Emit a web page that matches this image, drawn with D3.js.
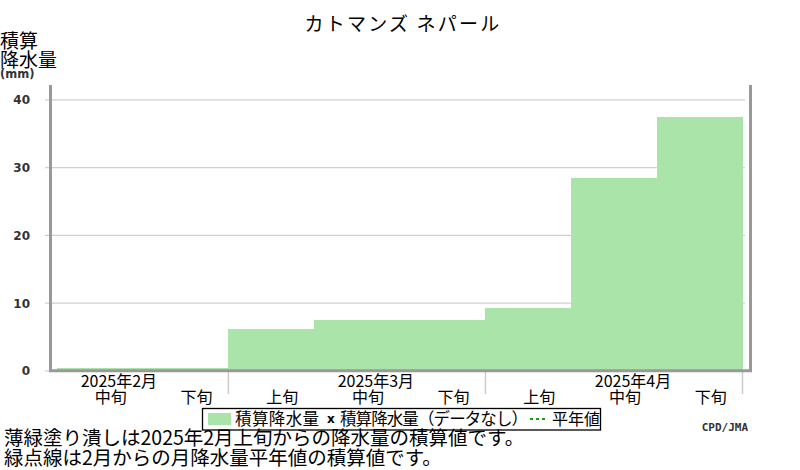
<!DOCTYPE html>
<html>
<head>
<meta charset="utf-8">
<script src="https://cdn.jsdelivr.net/npm/d3@7"></script>
<style>
  body { margin: 0; background: #fff; }
  text { font-family: "Noto Sans CJK JP", sans-serif; }
</style>
</head>
<body>
<div id="grafico"></div>
<script>
const WIDTH = 800;
const HEIGHT = 470;

// datos: precipitacion acumulada por decena (mm)
const dekadKeys = ["2-2", "2-3", "3-1", "3-2", "3-3", "4-1", "4-2", "4-3"];
const dekadLabels = ["中旬", "下旬", "上旬", "中旬", "下旬", "上旬", "中旬", "下旬"];
const acumulado = [0.3, 0.3, 6.05, 7.4, 7.4, 9.26, 28.35, 37.37];
const months = ["2025年2月", "2025年3月", "2025年4月"];
const monthMidKey = ["2-2", "3-2", "4-2"];
const monthStartKey = ["3-1", "4-1"];
const yTicks = [0, 10, 20, 30, 40];

const title = "カトマンズ ネパール";
const notes = ["薄緑塗り潰しは2025年2月上旬からの降水量の積算値です。",
               "緑点線は2月からの月降水量平年値の積算値です。"];

let svg = d3.select("#grafico")
    .append("svg")
    .attr("width", WIDTH)
    .attr("height", HEIGHT);

let x = d3.scaleBand().domain(dekadKeys).range([57, 742.5]).padding(0);
let y = d3.scaleLinear().domain([0, 40]).range([370.3, 99.3]);

// titulo
svg.append("text")
    .attr("x", 403)
    .attr("y", 31)
    .attr("text-anchor", "middle")
    .style("font-size", "19px")
    .style("letter-spacing", "2.2px")
    .text(title);

// etiqueta eje y
svg.append("text").attr("x", 0).attr("y", 48).style("font-size", "19px").text("積算");
svg.append("text").attr("x", 0).attr("y", 67).style("font-size", "19px").text("降水量");
svg.append("text").attr("x", 0).attr("y", 78)
    .style("font-family", "DejaVu Sans")
    .style("font-size", "11.5px")
    .style("font-weight", "bold")
    .style("fill", "#333")
    .text("(mm)");

// grid
svg.append("g").selectAll("line")
    .data(yTicks)
    .enter()
    .append("line")
    .attr("x1", 45)
    .attr("x2", 745)
    .attr("y1", d => y(d) + 0.5)
    .attr("y2", d => y(d) + 0.5)
    .style("stroke", "#d0d0d0")
    .style("stroke-width", 1.3);

svg.append("g").selectAll("text")
    .data(yTicks)
    .enter()
    .append("text")
    .attr("x", 30)
    .attr("y", d => y(d) + 5)
    .attr("text-anchor", "end")
    .style("font-family", "DejaVu Sans")
    .style("font-size", "12px")
    .style("font-weight", "bold")
    .style("fill", "#333")
    .text(d => d);

// barras escalonadas
svg.append("g").selectAll("rect")
    .data(acumulado)
    .enter()
    .append("rect")
    .attr("x", (d, i) => x(dekadKeys[i]))
    .attr("width", x.bandwidth() + 0.5)
    .attr("y", d => y(d))
    .attr("height", d => y(0) - y(d))
    .attr("shape-rendering", "crispEdges")
    .style("fill", "#abe4a8");

// marcas de mes
let monthTicks = monthStartKey.map(k => x(k)).concat([x.range()[1]]);
svg.append("g").selectAll("line")
    .data(monthTicks)
    .enter()
    .append("line")
    .attr("x1", d => d)
    .attr("x2", d => d)
    .attr("y1", 371)
    .attr("y2", 394)
    .style("stroke", "#cccccc")
    .style("stroke-width", 1.5);

// ejes
svg.append("line")
    .attr("x1", 50.5).attr("x2", 50.5)
    .attr("y1", 85).attr("y2", 372)
    .style("stroke", "#999").style("stroke-width", 3);
svg.append("line")
    .attr("x1", 750.5).attr("x2", 750.5)
    .attr("y1", 85).attr("y2", 372)
    .style("stroke", "#999").style("stroke-width", 3);
svg.append("line")
    .attr("x1", 49).attr("x2", 752)
    .attr("y1", 370.7).attr("y2", 370.7)
    .style("stroke", "#999").style("stroke-width", 3);

// etiquetas x
svg.append("g").selectAll("text")
    .data(dekadLabels)
    .enter()
    .append("text")
    .attr("x", (d, i) => x(dekadKeys[i]) + x.bandwidth() / 2 + 11)
    .attr("y", 403)
    .attr("text-anchor", "middle")
    .style("font-size", "16px")
    .text(d => d);

svg.append("g").selectAll("text")
    .data(months)
    .enter()
    .append("text")
    .attr("x", (d, i) => x(monthMidKey[i]) + x.bandwidth() / 2 + 19)
    .attr("y", 387)
    .attr("text-anchor", "middle")
    .style("font-size", "16px")
    .text(d => d);

// leyenda
let leyenda = svg.append("g");
leyenda.append("rect")
    .attr("x", 202.5).attr("y", 408.5)
    .attr("width", 398).attr("height", 21.5)
    .style("fill", "white").style("stroke", "black").style("stroke-width", 1.3);
leyenda.append("rect")
    .attr("x", 208).attr("y", 413)
    .attr("width", 23).attr("height", 12)
    .style("fill", "#abe4a8");
leyenda.append("text")
    .attr("x", 235).attr("y", 425)
    .style("font-size", "16.5px")
    .attr("textLength", 84)
    .text("積算降水量");
leyenda.append("text")
    .attr("x", 327).attr("y", 423)
    .style("font-family", "DejaVu Sans")
    .style("font-size", "12px")
    .style("font-weight", "bold")
    .text("x");
leyenda.append("text")
    .attr("x", 340).attr("y", 425)
    .style("font-size", "16.5px")
    .attr("textLength", 188)
    .text("積算降水量（データなし）");
leyenda.append("line")
    .attr("x1", 530).attr("x2", 547)
    .attr("y1", 419).attr("y2", 419)
    .style("stroke", "#1a9a1a")
    .style("stroke-width", 2)
    .style("stroke-dasharray", "3,3");
leyenda.append("text")
    .attr("x", 552).attr("y", 425)
    .style("font-size", "16px")
    .text("平年値");

svg.append("text")
    .attr("x", 748).attr("y", 431)
    .attr("text-anchor", "end")
    .style("font-family", "DejaVu Sans Mono")
    .style("font-size", "11px")
    .style("font-weight", "bold")
    .style("fill", "#333")
    .text("CPD/JMA");

// notas
svg.append("g").selectAll("text")
    .data(notes)
    .enter()
    .append("text")
    .attr("x", 4)
    .attr("y", (d, i) => 445 + i * 20)
    .style("font-size", "19.5px")
    .text(d => d);
</script>
</body>
</html>
